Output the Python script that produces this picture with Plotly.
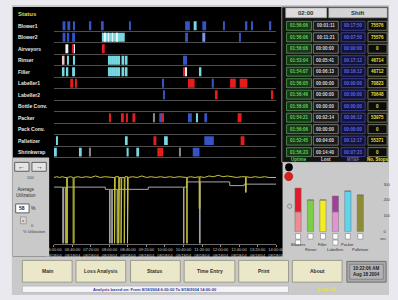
import plotly.graph_objects as go

W, H = 398, 300
FONT = "Liberation Sans, Arial, sans-serif"

# ---------------- data ----------------
ROW_LABELS = ["Blower1", "Blower2", "Airveyors", "Rinser", "Filler", "Labeller1",
              "Labeller2", "Bottle Conv.", "Packer", "Pack Conv.", "Palletizer", "Shrinkwrap"]

# status events: (row, start minute after 06:00, end minute)
BLUE_EVENTS = [
    (0, 18.6, 24.8), (0, 29, 35.2), (0, 41.4, 45.5), (0, 76.6, 80.7), (0, 103.5, 107.6),
    (0, 163.5, 165.5), (0, 283.5, 293.8), (0, 320.7, 329), (0, 366, 368), (0, 413.8, 418),
    (0, 426, 430), (0, 465.5, 469.7),
    (1, 18.6, 24.8), (1, 29, 33), (1, 39.3, 45.5), (1, 283.5, 289.7), (1, 401.4, 403.5),
    (3, 279, 287.6),
    (5, 233.8, 238), (5, 341, 345.5),
    (6, 236, 238),
    (8, 227.6, 238), (8, 289.7, 298), (8, 325, 331),
    (10, 325, 345.5),
    (11, 300, 314.5),
]
LIGHTBLUE_EVENTS = [(1, 320.7, 327)]
CYAN_EVENTS = [
    (0, 302, 308.3),
    (1, 103.5, 153),
    (3, 29, 31), (3, 41.4, 45.5), (3, 118, 120), (3, 122, 124), (3, 127, 129), (3, 131, 133),
    (3, 135, 137), (3, 139, 143), (3, 146, 152), (3, 155, 159),
    (4, 18.6, 22.8), (4, 27, 31), (4, 39.3, 45.5), (4, 118, 120), (4, 122, 124), (4, 127, 129),
    (4, 131, 133), (4, 135, 137), (4, 139, 143), (4, 146, 152), (4, 155, 159), (4, 314.5, 318.6),
    (8, 308, 310),
    (10, 6.2, 8.3), (10, 155, 159.3), (10, 238, 246),
    (11, 2, 6.2), (11, 55.9, 60), (11, 157, 161.4), (11, 178, 184),
]
WHITE_EVENTS = [(1, 109.3, 110.3), (1, 117.3, 118.3), (1, 126, 127), (1, 136, 137),
                (2, 24.8, 31), (2, 41.4, 45.5), (4, 283, 287.6)]
PINK_EVENTS = [(3, 18.6, 22.8)]
RED_EVENTS = [
    (2, 39.3, 41.4), (2, 105.5, 109.7),
    (4, 279, 283),
    (5, 35.2, 41.4), (5, 45.5, 49.7), (5, 289.7, 304), (5, 380.7, 393), (5, 401.4, 418),
    (6, 349.7, 353.8), (6, 469.7, 473.8),
    (8, 120, 121.5), (8, 144.8, 151), (8, 157, 158.5), (8, 169.7, 175.9), (8, 231.7, 234),
    (8, 397, 405.5),
    (10, 215, 221.4), (10, 403.5, 411.7),
    (11, 223.4, 236),
]
GREY_EVENTS = [(8, 215, 216.5), (11, 76.6, 78), (11, 271, 272.5)]

TIME_TICKS = [0, 40, 80, 120, 160, 200, 240, 280, 320, 360, 400, 440, 480]
TIME_LABELS = ["06:00:00", "06:40:00", "07:20:00", "08:00:00", "08:40:00", "09:20:00", "10:00:00",
               "10:40:00", "11:20:00", "12:00:00", "12:40:00", "13:20:00", "14:00:00"]
DATE_LABEL = "08/18/04"

# utilisation (%) over time
YELLOW_T = [0, 6, 12, 18, 24, 27.5, 27.5, 29, 29, 35, 41.5, 41.5, 43.5, 43.5, 52, 60, 70, 80, 90,
            100, 110, 120, 128, 131, 131, 132.5, 132.5, 140, 140, 141.5, 141.5, 145, 145, 146.5,
            146.5, 152, 152, 153.5, 153.5, 159, 159, 160.5, 160.5, 170, 180, 190, 200, 210, 220,
            230, 240, 250, 260, 270, 280, 287, 287, 288, 288, 295, 305, 314, 314, 315.5, 315.5,
            325, 335, 345, 355, 365, 375, 385, 395, 405, 414, 414, 415.5, 415.5, 425, 435, 445,
            455, 465, 480]
YELLOW_V = [89, 90, 89, 90, 89, 89, 0, 0, 89, 90, 89, 0, 0, 89, 90, 89, 90, 89, 91,
            89, 90, 89, 89, 89, 0, 0, 90, 90, 0, 0, 89, 89, 0, 0,
            89, 89, 0, 0, 90, 90, 0, 0, 89, 90, 89, 91, 89, 90, 89,
            90, 89, 90, 89, 90, 89, 89, 0, 0, 89, 90, 89, 90, 47, 47, 90,
            89, 91, 90, 92, 90, 91, 90, 89, 90, 90, 69, 69, 90, 89, 90, 89,
            90, 89, 89]
GREY_T = [0, 19, 19, 20.5, 20.5, 24.5, 24.5, 26, 26, 111, 111, 120, 120, 121.5, 121.5, 124.8, 124.8,
          126.3, 126.3, 136.6, 136.6, 138, 138, 204, 204, 280, 280, 281, 281, 287, 287, 314.5,
          314.5, 316, 316, 380, 380, 411, 411, 480]
GREY_V = [76, 76, 0, 0, 76, 76, 0, 0, 76, 76, 73, 73, 0, 0, 73, 73, 0,
          0, 73, 73, 0, 0, 73, 73, 76, 76, 0, 0, 76, 76, 83, 83,
          0, 0, 83, 83, 78, 78, 80, 80]

# shift table
TABLE_HEADERS = ["Uptime", "Lost", "MTBF", "No. Stops"]
COL_UPTIME = ["01:56:06", "01:56:06", "01:56:06", "01:53:04", "01:54:07", "01:56:05",
              "01:56:46", "01:56:06", "01:54:21", "01:56:06", "01:52:45", "01:56:23"]
COL_LOST = ["00:01:11", "00:11:21", "00:00:00", "00:05:41", "00:06:13", "00:00:00",
            "00:00:00", "00:00:00", "00:02:14", "00:00:00", "00:04:00", "00:14:40"]
COL_MTBF = ["00:17:50", "00:07:50", "00:00:00", "00:17:12", "00:16:12", "00:00:00",
            "00:00:00", "00:00:00", "00:06:12", "00:00:00", "00:12:17", "00:07:23"]
COL_STOPS = ["75576", "75576", "0", "46714", "46712", "70823", "70648", "0", "53975", "0", "55371", "0"]

# downtime bar chart (sec)
BAR_CATS = ["Blowers", "Rinser", "Filler", "Labellers", "Packer", "Palletizer"]
BAR_LOWER = [125, 200, 200, 125, 256, 231]
BAR_UPPER = [150, 0, 0, 100, 0, 0]
BAR_TICKS = [0, 100, 200, 300]

BUTTONS = ["Main", "Loss Analysis", "Status", "Time Entry", "Print", "About"]

# ---------------- styles ----------------
LOWER_COLORS = ["#f08a96", "#7ccf44", "#f2ee22", "#e094d2", "#5cd6ee", "#8e8c34"]
UPPER_COLORS = ["#e01c2c", "#7ccf44", "#f2ee22", "#a23e9e", "#5cd6ee", "#8e8c34"]


def X(px):
    return px / W


def Y(py):
    return 1 - py / H


fig = go.Figure()
shapes = []
ann = []


def rect(x0, y0, x1, y1, fill, line=None, lw=0, yref="paper", xref="paper", layer="below"):
    d = dict(type="rect", xref=xref, yref=yref, fillcolor=fill, layer=layer,
             line=dict(color=line or fill, width=lw))
    d["x0"], d["x1"] = (X(x0), X(x1)) if xref == "paper" else (x0, x1)
    d["y0"], d["y1"] = (Y(y0), Y(y1)) if yref == "paper" else (y0, y1)
    shapes.append(d)


def text(x, y, s, size=5, color="#202020", xanchor="center", yref="paper", xref="paper", bold=False):
    ann.append(dict(x=X(x) if xref == "paper" else x, y=Y(y) if yref == "paper" else y,
                    xref=xref, yref=yref, text=("<b>%s</b>" % s) if bold else s,
                    showarrow=False, xanchor=xanchor, yanchor="middle",
                    font=dict(size=size, color=color, family=FONT)))


# background panels
rect(4, 4, 398, 297, "#c9c9c9")
rect(5, 6, 287, 258, "#000000")
rect(286, 6, 397, 163, "#121212", line="#8a8a8a", lw=1)
rect(5, 158, 43, 258, "#c9c9c9")

# timeline
for events, color in [(GREY_EVENTS, "#8a8a8a"), (BLUE_EVENTS, "#3553c4"), (LIGHTBLUE_EVENTS, "#7a98ea"),
                      (CYAN_EVENTS, "#78d8e2"), (WHITE_EVENTS, "#eef4f4"), (PINK_EVENTS, "#f2c4c4"),
                      (RED_EVENTS, "#e41c1c")]:
    fig.add_trace(go.Bar(orientation="h", y=[e[0] for e in events], x=[e[2] - e[1] for e in events],
                         base=[e[1] for e in events], width=0.78, marker=dict(color=color, line=dict(width=0)),
                         xaxis="x", yaxis="y", hoverinfo="skip", showlegend=False))

text(8, 13, "Status", size=6, color="#dada50", xanchor="left", bold=True)
for i, lab in enumerate(ROW_LABELS):
    text(8, i, lab, size=5, color="#e6e6e6", xanchor="left", yref="y", bold=True)

# utilisation lines
fig.add_trace(go.Scatter(x=GREY_T, y=GREY_V, mode="lines", line=dict(color="#a8a8a8", width=1),
                         xaxis="x2", yaxis="y2", hoverinfo="skip", showlegend=False))
fig.add_trace(go.Scatter(x=YELLOW_T, y=YELLOW_V, mode="lines", line=dict(color="#c8c43a", width=1),
                         xaxis="x2", yaxis="y2", hoverinfo="skip", showlegend=False))

# left control panel
rect(7, 163, 22, 172, "#e4e4e4", line="#606060", lw=1)
rect(25, 163, 40, 172, "#e4e4e4", line="#606060", lw=1)
text(14.5, 167.5, "←", size=7, color="#202020", bold=True)
text(32.5, 167.5, "→", size=7, color="#202020", bold=True)
text(23, 178, "100", size=4, color="#404040")
text(6, 193, "Average<br>Utilization", size=4.5, color="#303030", xanchor="left")
rect(8, 205, 22, 214, "#ffffff", line="#606060", lw=1)
text(15, 209.5, "58", size=5, color="#202020", bold=True)
text(27, 209.5, "%", size=5, color="#303030")
rect(13, 218, 19, 225, "#d8d8d8", line="#707070", lw=0.5)
text(16, 221.5, "x", size=4, color="#303030")
text(26, 227, "0", size=4, color="#404040")
text(27, 233, "% Utilization", size=4, color="#404040")

# table
rect(290, 7, 333, 17, "#dcdcdc", line="#9a9a9a", lw=0.5)
rect(335, 7, 396, 17, "#d4d4d4", line="#9a9a9a", lw=0.5)
text(311.5, 12, "02:00", size=6, color="#303030", bold=True)
text(365.5, 12, "Shift", size=6, color="#303030", bold=True)
cols = [(291, 317, COL_UPTIME, "#163816", "#5a9a5a", "#62d062"),
        (319, 345, COL_LOST, "#1a1a1a", "#8a8a8a", "#d8d8d8"),
        (348, 373, COL_MTBF, "#12123e", "#4848a8", "#5a6ae6"),
        (376, 396, COL_STOPS, "#0c0c0c", "#8a8a6a", "#e2e040")]
for x0, x1, vals, bg, border, fg in cols:
    for i, v in enumerate(vals):
        rect(x0, i - 0.39, x1, i + 0.39, bg, line=border, lw=0.8, yref="y")
        text((x0 + x1) / 2, i, v, size=4.5, color=fg, yref="y", bold=True)
for (x0, x1, vals, bg, border, fg), h in zip(cols, TABLE_HEADERS):
    text((x0 + x1) / 2, 160, h, size=4.5, color=fg, bold=True)

# lower right panel
rect(287, 163, 397, 258, "#c9c9c9")
shapes.append(dict(type="circle", xref="paper", yref="paper", x0=X(289.5), x1=X(297.5), y0=Y(164), y1=Y(172),
                   fillcolor="#000000", line=dict(color="#000000", width=0), layer="below"))
shapes.append(dict(type="circle", xref="paper", yref="paper", x0=X(289), x1=X(297.5), y0=Y(173), y1=Y(181.5),
                   fillcolor="#e01c1c", line=dict(color="#901010", width=0.5), layer="below"))
shapes.append(dict(type="circle", xref="paper", yref="paper", x0=X(292), x1=X(296.5), y0=Y(205), y1=Y(209.5),
                   fillcolor="rgba(0,0,0,0)", line=dict(color="#8a8a8a", width=1), layer="below"))

fig.add_trace(go.Bar(x=BAR_CATS, y=BAR_LOWER, width=0.5, marker=dict(color=LOWER_COLORS, line=dict(color="#707070", width=0.5)),
                     xaxis="x3", yaxis="y3", hoverinfo="skip", showlegend=False))
fig.add_trace(go.Bar(x=BAR_CATS, y=BAR_UPPER, base=BAR_LOWER, width=0.5,
                     marker=dict(color=UPPER_COLORS, line=dict(color="#707070", width=0.5)),
                     xaxis="x3", yaxis="y3", hoverinfo="skip", showlegend=False))
for i, c in enumerate(BAR_CATS):
    shapes.append(dict(type="rect", xref="x3", yref="paper", x0=i - 0.2, x1=i + 0.2, y0=Y(240.5), y1=Y(235),
                       fillcolor="#ffffff", line=dict(color="#707070", width=0.5), layer="above"))
    if c in ("Blowers", "Labellers"):
        shapes.append(dict(type="rect", xref="x3", yref="paper", x0=i - 0.2, x1=i + 0.2, y0=Y(246.5), y1=Y(241.5),
                           fillcolor="#ffffff", line=dict(color="#707070", width=0.5), layer="above"))
    ann.append(dict(x=c, y=Y(250 if i % 2 == 0 else 255.5), xref="x3", yref="paper", text=c, showarrow=False,
                    font=dict(size=4, color="#303030", family=FONT)))
text(392, 240, "sec", size=4, color="#404040")

# buttons
for (x0, x1), lab in zip([(15, 67), (71, 123), (128, 180), (184, 237), (241, 293), (297, 349)], BUTTONS):
    rect(x0, 262, x1, 284, "#ebe8c9", line="#9a9a8a", lw=1)
    text((x0 + x1) / 2, 273, lab, size=5, color="#303030", bold=True)
rect(354, 263, 395, 284, "#a8a8a8", line="#707070", lw=1)
rect(357, 266, 392, 281, "#b4b4b4", line="#5a5a5a", lw=0.5)
text(374.5, 273.5, "10:22:06 AM<br>Aug 18 2004", size=4.5, color="#202020", bold=True)
rect(15, 288, 293, 294.5, "#f4f4f8", line="#a0a0a0", lw=0.5)
text(154, 291.3, "Analysis based on: From 8/18/2004 6:00:00 To 8/18/2004 14:00:00", size=4, color="#2a3aa0", bold=True)
text(333, 291.3, "Line 02", size=5, color="#e6e040", bold=True)

fig.update_layout(
    width=W, height=H, margin=dict(l=0, r=0, t=0, b=0),
    paper_bgcolor="#e9e9ef", plot_bgcolor="rgba(0,0,0,0)",
    barmode="overlay", showlegend=False, shapes=shapes, annotations=ann,
    font=dict(family=FONT),
    xaxis=dict(domain=[X(48), X(280)], range=[0, 480], anchor="y", showgrid=False, zeroline=False,
               showticklabels=False, fixedrange=True),
    yaxis=dict(domain=[Y(159.6), Y(8.8)], range=[11.6, -1.4], anchor="x",
               tickvals=[i + 0.48 for i in range(12)], showgrid=True, gridcolor="#4e4e4e", gridwidth=1,
               showticklabels=False, zeroline=False, ticks="", fixedrange=True),
    xaxis2=dict(domain=[X(48), X(280)], range=[0, 480], anchor="y2", tickvals=TIME_TICKS,
                ticktext=["%s<br>%s" % (t, DATE_LABEL) for t in TIME_LABELS],
                tickfont=dict(size=4, color="#c8c8c8"), ticks="outside", ticklen=2, tickcolor="#909090",
                showline=True, linecolor="#6a6a6a", linewidth=1, showgrid=False, zeroline=False, fixedrange=True),
    yaxis2=dict(domain=[Y(245), Y(170)], range=[0, 100], anchor="x2", showticklabels=False,
                showgrid=False, zeroline=False, fixedrange=True),
    xaxis3=dict(domain=[X(296.5), X(374.5)], range=[-0.5, 5.5], anchor="y3", type="category",
                showticklabels=False, showgrid=False, zeroline=False, fixedrange=True),
    yaxis3=dict(domain=[Y(233), Y(183.4)], range=[0, 310], anchor="free", position=X(389), side="right",
                tickvals=BAR_TICKS, tickfont=dict(size=4, color="#404040"), ticks="", ticklabelstandoff=2,
                showgrid=False, zeroline=False, showline=False, fixedrange=True),
)

fig.write_html("out.html", config={"displayModeBar": False},
               post_script="document.body.style.margin='0';document.body.style.padding='0';"
                           "document.documentElement.style.overflow='hidden';")
